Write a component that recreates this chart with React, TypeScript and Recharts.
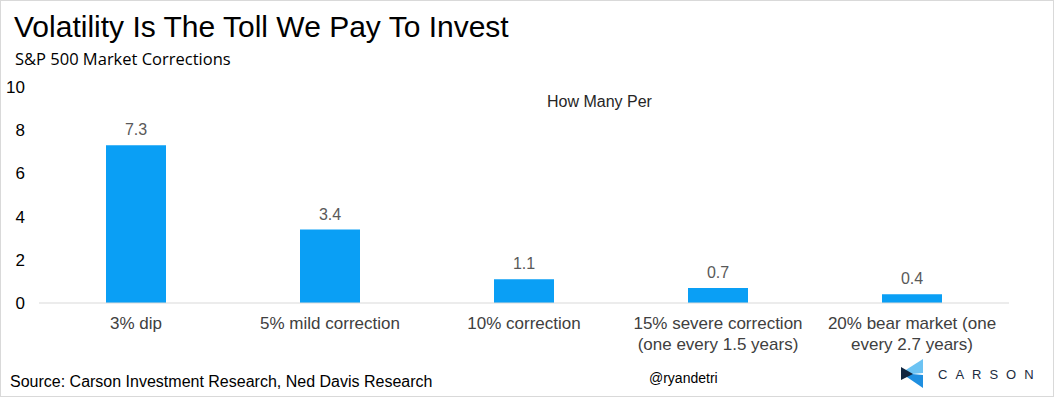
import { BarChart, Bar, XAxis, YAxis, LabelList } from "recharts";

const categories = [
  "3% dip",
  "5% mild correction",
  "10% correction",
  "15% severe correction\n(one every 1.5 years)",
  "20% bear market (one\nevery 2.7 years)",
];
const howManyPer = [7.3, 3.4, 1.1, 0.7, 0.4];
const yTicks = [0, 2, 4, 6, 8, 10];

const data = categories.map((name, i) => ({ name, value: howManyPer[i] }));

const FONT = "'Liberation Sans', Arial, sans-serif";

function CategoryTick({ x, y, payload }: any) {
  const lines = String(payload.value).split("\n");
  return (
    <text x={x} y={y} textAnchor="middle" fill="#404040" fontSize={17} fontFamily={FONT}>
      {lines.map((l, i) => (
        <tspan key={i} x={x} dy={i === 0 ? 18 : 21}>
          {l}
        </tspan>
      ))}
    </text>
  );
}

function CarsonLogo() {
  return (
    <svg width={150} height={34} style={{ position: "absolute", left: 896, top: 355 }}>
      <polygon points="4,17 26,3 26,17 15,18" fill="#6cc3f3" />
      <polygon points="4,17 15,18 26,19 26,32" fill="#1f8fe0" />
      <polygon points="4,11 16,18 4,24" fill="#12263f" />
      <text x={41} y={23} fontSize={13} fontFamily={FONT} fill="#1b2a40" letterSpacing={8}>
        CARSON
      </text>
    </svg>
  );
}

export default function App() {
  return (
    <div
      style={{
        position: "absolute",
        left: 0,
        top: 0,
        width: 1052,
        height: 395,
        border: "1px solid #d9d9d9",
        background: "#fff",
        overflow: "hidden",
        fontFamily: FONT,
      }}
    >
      <div style={{ position: "absolute", left: 13, top: 9, fontSize: 30, color: "#000", whiteSpace: "nowrap" }}>
        Volatility Is The Toll We Pay To Invest
      </div>
      <div
        style={{
          position: "absolute",
          left: 14,
          top: 46,
          fontSize: 16.5,
          color: "#000",
          fontFamily: "'Open Sans', sans-serif",
          whiteSpace: "nowrap",
        }}
      >
        S&amp;P 500 Market Corrections
      </div>
      <div style={{ position: "absolute", left: 546, top: 92, fontSize: 16, color: "#262626" }}>How Many Per</div>
      <div style={{ position: "absolute", left: 0, top: 0 }}>
        <BarChart width={1054} height={397} data={data} margin={{ top: 86, right: 46, bottom: 45, left: 0 }}>
          <XAxis
            dataKey="name"
            interval={0}
            axisLine={{ stroke: "#d9d9d9" }}
            tickLine={false}
            height={50}
            tick={<CategoryTick />}
          />
          <YAxis
            domain={[0, 10]}
            ticks={yTicks}
            width={38}
            axisLine={false}
            tickLine={false}
            tickSize={0}
            tickMargin={14}
            tick={{ fill: "#000", fontSize: 17, fontFamily: FONT }}
          />
          <Bar dataKey="value" fill="#0a9ff5" barSize={60} isAnimationActive={false}>
            <LabelList dataKey="value" position="top" offset={10} fill="#595959" fontSize={16} fontFamily={FONT} />
          </Bar>
        </BarChart>
      </div>
      <div style={{ position: "absolute", left: 9, top: 372, fontSize: 16, color: "#000", whiteSpace: "nowrap" }}>
        Source: Carson Investment Research, Ned Davis Research
      </div>
      <div style={{ position: "absolute", left: 648, top: 369, fontSize: 14, color: "#000" }}>@ryandetri</div>
      <CarsonLogo />
    </div>
  );
}
